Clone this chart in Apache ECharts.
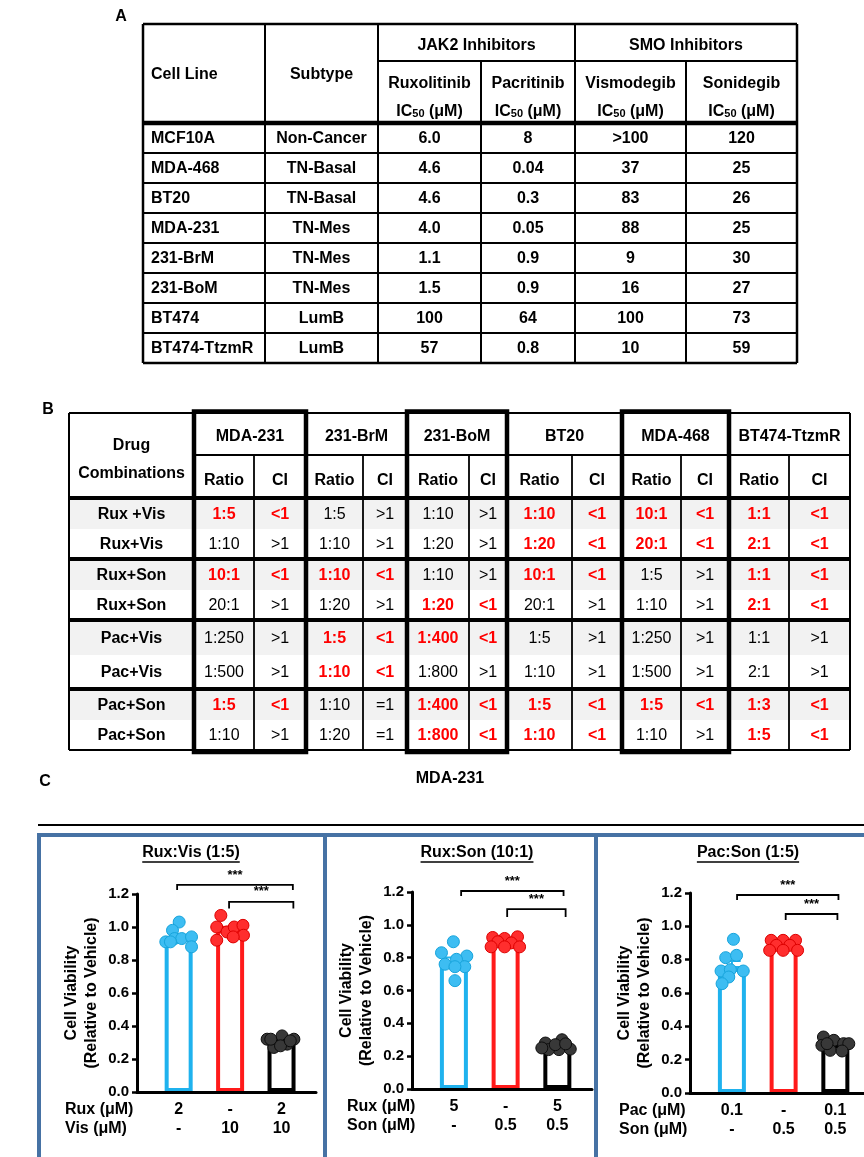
<!DOCTYPE html>
<html><head><meta charset="utf-8">
<script src="https://cdn.jsdelivr.net/npm/echarts@6/dist/echarts.min.js"></script>
<style>html,body{margin:0;padding:0;background:#fff}#c{width:864px;height:1157px}</style>
</head><body><div id="c"></div>
<script>
// ================= DATA =================
// Table A
const icCellLines = ['MCF10A','MDA-468','BT20','MDA-231','231-BrM','231-BoM','BT474','BT474-TtzmR'];
const icSubtypes  = ['Non-Cancer','TN-Basal','TN-Basal','TN-Mes','TN-Mes','TN-Mes','LumB','LumB'];
const icRux = ['6.0','4.6','4.6','4.0','1.1','1.5','100','57'];
const icPac = ['8','0.04','0.3','0.05','0.9','0.9','64','0.8'];
const icVis = ['>100','37','83','88','9','16','100','10'];
const icSon = ['120','25','26','25','30','27','73','59'];
const icGroups = ['JAK2 Inhibitors','SMO Inhibitors'];
const icDrugs = ['Ruxolitinib','Pacritinib','Vismodegib','Sonidegib'];

// Table B
const ciCellLines = ['MDA-231','231-BrM','231-BoM','BT20','MDA-468','BT474-TtzmR'];
const ciCombos = ['Rux +Vis','Rux+Vis','Rux+Son','Rux+Son','Pac+Vis','Pac+Vis','Pac+Son','Pac+Son'];
const ratioMDA231 = ['1:5','1:10','10:1','20:1','1:250','1:500','1:5','1:10'];
const ciMDA231    = ['<1','>1','<1','>1','>1','>1','<1','>1'];
const ratioBrM    = ['1:5','1:10','1:10','1:20','1:5','1:10','1:10','1:20'];
const ciBrM       = ['>1','>1','<1','>1','<1','<1','=1','=1'];
const ratioBoM    = ['1:10','1:20','1:10','1:20','1:400','1:800','1:400','1:800'];
const ciBoM       = ['>1','>1','>1','<1','<1','>1','<1','<1'];
const ratioBT20   = ['1:10','1:20','10:1','20:1','1:5','1:10','1:5','1:10'];
const ciBT20      = ['<1','<1','<1','>1','>1','>1','<1','<1'];
const ratioMDA468 = ['10:1','20:1','1:5','1:10','1:250','1:500','1:5','1:10'];
const ciMDA468    = ['<1','<1','>1','>1','>1','>1','<1','>1'];
const ratioTtzmR  = ['1:1','2:1','1:1','2:1','1:1','2:1','1:3','1:5'];
const ciTtzmR     = ['<1','<1','<1','<1','>1','>1','<1','<1'];

// Panel C
const panelTitle = 'MDA-231';
const chartTitles = ['Rux:Vis (1:5)','Rux:Son (10:1)','Pac:Son (1:5)'];
const yTicks = [0, 0.2, 0.4, 0.6, 0.8, 1.0, 1.2];
// dose rows
const ruxVisRowNames = ['Rux (μM)','Vis (μM)'];
const ruxVisDoseA = ['2','-','2'];
const ruxVisDoseB = ['-','10','10'];
const ruxSonRowNames = ['Rux (μM)','Son (μM)'];
const ruxSonDoseA = ['5','-','5'];
const ruxSonDoseB = ['-','0.5','0.5'];
const pacSonRowNames = ['Pac (μM)','Son (μM)'];
const pacSonDoseA = ['0.1','-','0.1'];
const pacSonDoseB = ['-','0.5','0.5'];
// bar means and SEM
const ruxVisMean = [0.935, 0.985, 0.305];
const ruxVisSem  = [0.016, 0.016, 0.008];
const ruxSonMean = [0.775, 0.893, 0.262];
const ruxSonSem  = [0.026, 0.009, 0.008];
const pacSonMean = [0.762, 0.886, 0.291];
const pacSonSem  = [0.030, 0.009, 0.010];
// individual points: [jitter within bar (category units), value]
const ruxVisSingleA = [[0.01,1.03],[-0.12,0.98],[-0.25,0.91],[-0.08,0.93],[0.06,0.93],[0.25,0.94],[0.25,0.88],[-0.16,0.91]];
const ruxVisSingleB = [[-0.18,1.07],[-0.26,1.00],[-0.26,0.92],[-0.06,0.97],[0.08,1.00],[0.25,1.01],[0.26,0.95],[0.06,0.94]];
const ruxVisCombo   = [[-0.28,0.32],[-0.15,0.27],[0.01,0.34],[0.11,0.29],[0.24,0.32],[-0.02,0.28],[-0.21,0.32],[0.17,0.31]];
const ruxSonSingleA = [[-0.01,0.897],[-0.24,0.83],[0.25,0.81],[-0.17,0.76],[0.05,0.79],[0.21,0.745],[0.02,0.745],[0.02,0.66]];
const ruxSonSingleB = [[-0.25,0.923],[-0.02,0.917],[0.23,0.927],[-0.15,0.897],[0.11,0.89],[-0.28,0.866],[-0.02,0.866],[0.27,0.866]];
const ruxSonCombo   = [[-0.23,0.28],[0.09,0.30],[0.03,0.24],[0.25,0.243],[-0.17,0.24],[-0.04,0.27],[0.16,0.275],[-0.30,0.25]];
const pacSonSingleA = [[0.03,0.922],[-0.12,0.812],[0.09,0.826],[-0.21,0.732],[-0.03,0.74],[0.22,0.732],[-0.06,0.696],[-0.19,0.656]];
const pacSonSingleB = [[-0.24,0.916],[-0.01,0.916],[0.23,0.916],[-0.14,0.886],[0.12,0.886],[-0.27,0.856],[-0.01,0.856],[0.27,0.856]];
const pacSonCombo   = [[-0.23,0.336],[-0.03,0.316],[0.16,0.296],[0.26,0.296],[-0.26,0.286],[-0.10,0.256],[0.13,0.252],[-0.16,0.296]];
// significance brackets: [from x, to x, bracket top, leg bottom], label
const ruxVisSig = [[-0.03,2.22,1.255,1.224],[0.98,2.23,1.152,1.112]];
const ruxSonSig = [[0.14,2.12,1.206,1.175],[1.03,2.16,1.096,1.047]];
const pacSonSig = [[0.10,2.06,1.188,1.158],[1.04,2.04,1.074,1.038]];
const sigLabel = '***';

// ================= LAYOUT / STYLE =================
const FF = '"Liberation Sans", Arial, Helvetica, sans-serif';
const fB = s => 'bold ' + s + 'px ' + FF;
const fN = s => s + 'px ' + FF;
const FS = 16;
const RED = '#ff0000';
const barColors = ['#1fb2ee', '#ff1a1a', '#000000'];
const dotFill = ['#3dbdf2', '#ff2e2e', '#383838'];
const dotStroke = ['#17a4dc', '#dd0000', '#0d0d0d'];
const BOX_BLUE = '#4672a4';

const LA = { left:143, top:24, width:654, height:340, cols:[0,122,235,338,432,543,654], head1:37, headBottom:99, rowH:30 };
const LB = { left:69, top:413, width:781, height:340,
  cols:[0,125,185,237,294,338,400,438,503,553,612,660,720,781],
  rows:[0,42,85,116,146,177,207,242,276,307,337] };
const LC = [
  { left:137, top:894, width:179, height:198, titleX:191, rowX:65 },
  { left:412, top:892, width:180, height:197, titleX:477, rowX:347 },
  { left:690, top:893, width:180, height:200, titleX:748, rowX:619 }
];
const X_MIN = -0.81, X_MAX = 2.67;

// ================= helpers =================
function addLine(out, a, b, w, color) {
  out.push({ type:'line', shape:{ x1:a[0], y1:a[1], x2:b[0], y2:b[1] }, style:{ stroke: color || '#000', lineWidth:w } });
}
function addText(out, p, text, font, fill, align, extra) {
  out.push({ type:'text', x:p[0], y:p[1], z2:10, style:Object.assign({ text:text, font:font, fill:fill || '#000',
    align: align || 'center', textAlign: align || 'center', verticalAlign:'middle', textVerticalAlign:'middle' }, extra || {}) });
}

function renderTableA(params, api) {
  const P = (x, y) => api.coord([x, y]);
  const out = [];
  const C = LA.cols, hb = LA.headBottom, rh = LA.rowH, n = icCellLines.length, bot = hb + rh * n, W = C[6];
  for (let k = 1; k < n; k++) addLine(out, P(0, hb + rh * k), P(W, hb + rh * k), 1.8);
  [C[1], C[2], C[4]].forEach(x => addLine(out, P(x, 0), P(x, bot), 2));
  [C[3], C[5]].forEach(x => addLine(out, P(x, LA.head1), P(x, bot), 2));
  addLine(out, P(C[2], LA.head1), P(W, LA.head1), 2);
  addLine(out, P(0, hb), P(W, hb), 4.5);
  addLine(out, P(0, 0), P(W, 0), 2.5); addLine(out, P(0, bot), P(W, bot), 2.5);
  addLine(out, P(0, 0), P(0, bot), 2.5); addLine(out, P(W, 0), P(W, bot), 2.5);
  addText(out, P(8, 51), 'Cell Line', fB(FS), '#000', 'left');
  addText(out, P((C[1] + C[2]) / 2, 51), 'Subtype', fB(FS));
  addText(out, P((C[2] + C[4]) / 2, 22), icGroups[0], fB(FS));
  addText(out, P((C[4] + C[6]) / 2, 22), icGroups[1], fB(FS));
  for (let j = 0; j < 4; j++) {
    const cx = (C[2 + j] + C[3 + j]) / 2;
    addText(out, P(cx, 60), icDrugs[j], fB(FS));
    addText(out, P(cx, 86), '{a|IC}{b|50}{a| (μM)}', fB(FS), '#000', 'center', {
      rich: { a: { fontSize:FS, fontWeight:'bold', fontFamily:FF, lineHeight:19, verticalAlign:'bottom' },
              b: { fontSize:11, fontWeight:'bold', fontFamily:FF, lineHeight:14, verticalAlign:'bottom' } } });
  }
  const cols = [icSubtypes, icRux, icPac, icVis, icSon];
  for (let i = 0; i < n; i++) {
    const cy = hb + rh * i + rh / 2 + 1;
    addText(out, P(8, cy), icCellLines[i], fB(FS), '#000', 'left');
    cols.forEach((arr, j) => addText(out, P((C[1 + j] + C[2 + j]) / 2, cy), arr[i], fB(FS)));
  }
  return { type:'group', children: out };
}

function renderTableB(params, api) {
  const P = (x, y) => api.coord([x, y]);
  const out = [];
  const C = LB.cols, R = LB.rows, W = C[C.length - 1], bot = R[R.length - 1];
  const ratios = [ratioMDA231, ratioBrM, ratioBoM, ratioBT20, ratioMDA468, ratioTtzmR];
  const cis = [ciMDA231, ciBrM, ciBoM, ciBT20, ciMDA468, ciTtzmR];
  for (let g = 0; g < 4; g++) {
    const a = P(0, R[2 + 2 * g]), b = P(W, R[3 + 2 * g]);
    out.push({ type:'rect', shape:{ x:a[0], y:a[1], width:b[0] - a[0], height:b[1] - a[1] }, style:{ fill:'#f2f2f2' } });
  }
  for (let k = 1; k < C.length - 1; k++) {
    const isGroupEdge = (k % 2 === 1);
    addLine(out, P(C[k], isGroupEdge ? 0 : R[1]), P(C[k], bot), 1.8);
  }
  addLine(out, P(C[1], R[1]), P(W, R[1]), 1.8);
  addLine(out, P(0, 0), P(W, 0), 2); addLine(out, P(0, bot), P(W, bot), 2);
  addLine(out, P(0, 0), P(0, bot), 2); addLine(out, P(W, 0), P(W, bot), 2);
  [R[2], R[4], R[6], R[8]].forEach(y => addLine(out, P(0, y), P(W, y), 4));
  [0, 2, 4].forEach(g => {
    const a = P(C[1 + 2 * g], -1.5), b = P(C[3 + 2 * g], bot + 2);
    out.push({ type:'rect', shape:{ x:a[0], y:a[1], width:b[0] - a[0], height:b[1] - a[1] }, style:{ fill:'none', stroke:'#000', lineWidth:4.5 } });
  });
  addText(out, P(C[1] / 2, 33), 'Drug', fB(FS));
  addText(out, P(C[1] / 2, 61), 'Combinations', fB(FS));
  for (let g = 0; g < ciCellLines.length; g++) {
    addText(out, P((C[1 + 2 * g] + C[3 + 2 * g]) / 2, 24), ciCellLines[g], fB(FS));
    addText(out, P((C[1 + 2 * g] + C[2 + 2 * g]) / 2, 68), 'Ratio', fB(FS));
    addText(out, P((C[2 + 2 * g] + C[3 + 2 * g]) / 2, 68), 'CI', fB(FS));
  }
  for (let i = 0; i < ciCombos.length; i++) {
    const cy = (R[2 + i] + R[3 + i]) / 2 + 1;
    addText(out, P(C[1] / 2, cy), ciCombos[i], fB(FS));
    for (let g = 0; g < ciCellLines.length; g++) {
      const syn = cis[g][i] === '<1';
      const font = syn ? fB(FS) : fN(FS), fill = syn ? RED : '#000';
      addText(out, P((C[1 + 2 * g] + C[2 + 2 * g]) / 2, cy), ratios[g][i], font, fill);
      addText(out, P((C[2 + 2 * g] + C[3 + 2 * g]) / 2, cy), cis[g][i], font, fill);
    }
  }
  return { type:'group', children: out };
}

function renderBracket(params, api) {
  const x1 = api.value(0), x2 = api.value(1), yt = api.value(2), yl = api.value(3);
  const a = api.coord([x1, yl]), b = api.coord([x1, yt]), c = api.coord([x2, yt]), d = api.coord([x2, yl]);
  return { type:'group', children:[
    { type:'polyline', shape:{ points:[a, b, c, d] }, style:{ stroke:'#000', lineWidth:1.8, fill:null } },
    { type:'text', x:(b[0] + c[0]) / 2, y:b[1] - 10, style:{ text:sigLabel, font:fB(13), fill:'#000',
      align:'center', textAlign:'center', verticalAlign:'middle', textVerticalAlign:'middle' } }
  ] };
}

function renderErr(params, api) {
  const i = api.value(0), m = api.value(1), s = api.value(2);
  const col = barColors[params.dataIndex];
  const t = api.coord([i, m + s]), b = api.coord([i, m - s]);
  const tl = api.coord([i - 0.17, m + s]), tr = api.coord([i + 0.17, m + s]);
  const bl = api.coord([i - 0.17, m - s]), br = api.coord([i + 0.17, m - s]);
  const st = { stroke: col, lineWidth: 2 };
  return { type:'group', children:[
    { type:'line', shape:{ x1:t[0], y1:t[1], x2:b[0], y2:b[1] }, style:st },
    { type:'line', shape:{ x1:tl[0], y1:tl[1], x2:tr[0], y2:tr[1] }, style:st },
    { type:'line', shape:{ x1:bl[0], y1:bl[1], x2:br[0], y2:br[1] }, style:st }
  ] };
}

// ================= BUILD OPTION =================
const grids = [], xAxes = [], yAxes = [], series = [], graphics = [];
const G = (o) => Object.assign({ outerBoundsMode:'none', containLabel:false }, o);

grids.push(G({ left:LA.left, top:LA.top, width:LA.width, height:LA.height }));
xAxes.push({ gridIndex:0, type:'value', min:0, max:LA.width, show:false });
yAxes.push({ gridIndex:0, type:'value', min:0, max:LA.height, inverse:true, show:false });
series.push({ type:'custom', xAxisIndex:0, yAxisIndex:0, data:[[0, 0]], renderItem:renderTableA, silent:true, clip:false });
grids.push(G({ left:LB.left, top:LB.top, width:LB.width, height:LB.height }));
xAxes.push({ gridIndex:1, type:'value', min:0, max:LB.width, show:false });
yAxes.push({ gridIndex:1, type:'value', min:0, max:LB.height, inverse:true, show:false });
series.push({ type:'custom', xAxisIndex:1, yAxisIndex:1, data:[[0, 0]], renderItem:renderTableB, silent:true, clip:false });

function txt(x, y, t, font, align) {
  return { type:'text', x:x, y:y, z:50, style:{ text:t, font:font, fill:'#000', align:align, textAlign:align, verticalAlign:'middle', textVerticalAlign:'middle' } };
}
function measure(t, font) {
  const ctx = document.createElement('canvas').getContext('2d'); ctx.font = font; return ctx.measureText(t).width;
}

const chartSets = [
  { rows:ruxVisRowNames, doseA:ruxVisDoseA, doseB:ruxVisDoseB, mean:ruxVisMean, sem:ruxVisSem, pts:[ruxVisSingleA, ruxVisSingleB, ruxVisCombo], sig:ruxVisSig },
  { rows:ruxSonRowNames, doseA:ruxSonDoseA, doseB:ruxSonDoseB, mean:ruxSonMean, sem:ruxSonSem, pts:[ruxSonSingleA, ruxSonSingleB, ruxSonCombo], sig:ruxSonSig },
  { rows:pacSonRowNames, doseA:pacSonDoseA, doseB:pacSonDoseB, mean:pacSonMean, sem:pacSonSem, pts:[pacSonSingleA, pacSonSingleB, pacSonCombo], sig:pacSonSig }
];
chartSets.forEach((cs, k) => {
  const gi = 2 + k, L = LC[k];
  grids.push(G({ left:L.left, top:L.top, width:L.width, height:L.height }));
  xAxes.push({ gridIndex:gi, type:'value', min:X_MIN, max:X_MAX, z:10,
    axisLine:{ show:true, onZero:false, lineStyle:{ color:'#000', width:3 } },
    axisTick:{ show:false }, splitLine:{ show:false },
    axisLabel:{ show:true, customValues:[0, 1, 2], formatter:(v) => { const i = Math.round(v); return cs.doseA[i] + '\n' + cs.doseB[i]; },
      color:'#000', fontSize:FS, fontWeight:'bold', fontFamily:FF, lineHeight:19, margin:8 } });
  yAxes.push({ gridIndex:gi, type:'value', min:yTicks[0], max:yTicks[yTicks.length - 1], interval:0.2, z:10,
    axisLine:{ show:true, onZero:false, lineStyle:{ color:'#000', width:3 } },
    axisTick:{ show:true, length:5, lineStyle:{ color:'#000', width:2.5 } },
    splitLine:{ show:false },
    axisLabel:{ formatter:(v) => v.toFixed(1), color:'#000', fontSize:15, fontWeight:'bold', fontFamily:FF, margin:8 },
    name:'Cell Viability\n(Relative to Vehicle)', nameLocation:'middle', nameGap:35, nameRotate:90,
    nameTextStyle:{ color:'#000', fontSize:FS, fontWeight:'bold', fontFamily:FF, lineHeight:20 } });
  series.push({ type:'bar', xAxisIndex:gi, yAxisIndex:gi, barWidth:28, z:2, silent:true,
    data: cs.mean.map((m, i) => ({ value:[i, m], itemStyle:{ color:'#fff', borderColor:barColors[i], borderWidth:4 } })) });
  series.push({ type:'custom', xAxisIndex:gi, yAxisIndex:gi, z:3, silent:true, renderItem:renderErr,
    encode:{ x:0, y:1 }, data: cs.mean.map((m, i) => [i, m, cs.sem[i]]) });
  cs.pts.forEach((arr, i) => {
    series.push({ type:'scatter', xAxisIndex:gi, yAxisIndex:gi, z:4, silent:true, symbolSize:12,
      itemStyle:{ color:dotFill[i], borderColor:dotStroke[i], borderWidth:1, opacity:1 },
      data: arr.map(p => [i + p[0], p[1]]) });
  });
  series.push({ type:'custom', xAxisIndex:gi, yAxisIndex:gi, z:5, silent:true, clip:false, renderItem:renderBracket,
    encode:{ x:[0, 1], y:[2, 3] }, data: cs.sig });
  const x0 = L.rowX, y0 = L.top + L.height;
  graphics.push(txt(x0, y0 + 18, cs.rows[0], fB(FS), 'left'));
  graphics.push(txt(x0, y0 + 37, cs.rows[1], fB(FS), 'left'));
  graphics.push(txt(L.titleX, 853, chartTitles[k], fB(FS), 'center'));
  const w = measure(chartTitles[k], fB(FS));
  graphics.push({ type:'line', z:50, shape:{ x1:L.titleX - w / 2, y1:862, x2:L.titleX + w / 2, y2:862 }, style:{ stroke:'#000', lineWidth:1.3 } });
});

graphics.push(txt(121, 17, 'A', fB(FS), 'center'));
graphics.push(txt(48, 410, 'B', fB(FS), 'center'));
graphics.push(txt(45, 782, 'C', fB(FS), 'center'));
graphics.push(txt(450, 779, panelTitle, fB(FS), 'center'));
graphics.push({ type:'line', z:40, shape:{ x1:38, y1:825, x2:864, y2:825 }, style:{ stroke:'#000', lineWidth:2 } });
[[39, 325], [325, 596], [596, 872]].forEach(([a, b]) => {
  graphics.push({ type:'rect', z:40, shape:{ x:a, y:835, width:b - a, height:340 }, style:{ fill:'none', stroke:BOX_BLUE, lineWidth:4 } });
});

const chart = echarts.init(document.getElementById('c'), null, { renderer:'canvas', width:864, height:1157 });
chart.setOption({
  animation:false,
  backgroundColor:'#ffffff',
  grid:grids, xAxis:xAxes, yAxis:yAxes, series:series,
  graphic:{ elements:graphics }
});
</script></body></html>
